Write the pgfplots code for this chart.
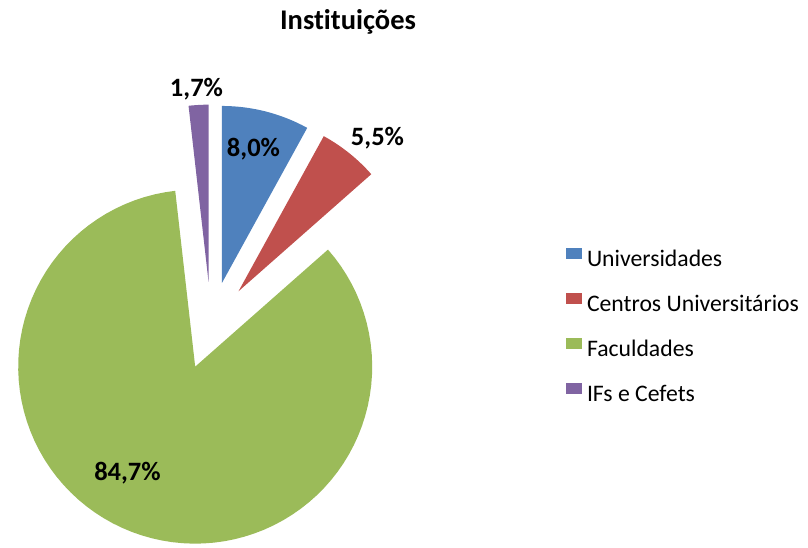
\documentclass[border=0pt]{standalone}
\usepackage{pgfplots}
\pgfplotsset{compat=1.18}
\usepackage{fontspec}
\setmainfont{Carlito}[Ligatures=NoCommon]
\definecolor{cBlue}{HTML}{4F81BD}
\definecolor{cRed}{HTML}{C0504D}
\definecolor{cGreen}{HTML}{9BBB59}
\definecolor{cPurple}{HTML}{8064A2}
% slice: #1 cumulative start (%), #2 cumulative end (%), #3 colour
% pie centre (211,222.4), radius 177, explosion 44 (pixel units)
\newcommand{\slice}[3]{%
  \addplot[fill=#3, draw=none, samples at={-1,0,1,...,90}, variable=\t]
  ({211+44*cos(90-1.8*(#1+#2)) + 177*(\t>-0.5)*cos(90-3.6*#1-3.6*(#2-#1)*\t/90)},
   {222.4+44*sin(90-1.8*(#1+#2)) + 177*(\t>-0.5)*sin(90-3.6*#1-3.6*(#2-#1)*\t/90)});
}
\begin{document}
\begin{tikzpicture}
\begin{axis}[
  x=1pt, y=1pt,
  xmin=0, xmax=808, ymin=0, ymax=548,
  hide axis, clip=false,
  legend cell align=left,
  legend image code/.code={\fill[#1] (0pt,3pt) rectangle (16pt,14pt);},
  legend style={at={(axis cs:566,300)}, anchor=north west, draw=none, fill=none,
    inner sep=0pt, outer sep=0pt, row sep=21pt, column sep=0pt,
    font=\fontsize{23.7}{23.7}\selectfont,
    nodes={inner sep=0pt, outer sep=0pt, text height=15pt, text depth=5pt}},
]
% values: Universidades 8.0, Centros 5.5, Faculdades 84.7, IFs 1.7
\slice{0}{8.0}{cBlue}
\slice{8.0}{13.5}{cRed}
\slice{13.5}{98.2}{cGreen}
\slice{98.2}{100}{cPurple}
\legend{\hspace{5pt}Universidades,\hspace{5pt}Centros Universitários,\hspace{5pt}Faculdades,\hspace{5pt}IFs e Cefets}
\path (axis cs:0,0) rectangle (axis cs:808,548);
\node[anchor=base, font=\bfseries\fontsize{28.5}{28.5}\selectfont, inner sep=0pt] at (axis cs:348,518.7) {Instituições};
\begin{scope}[every node/.style={anchor=base, font=\bfseries\fontsize{26.5}{26.5}\selectfont, inner sep=0pt}]
\node at (axis cs:253.5,391) {8,0\%};
\node at (axis cs:377.5,402) {5,5\%};
\node at (axis cs:127.5,67) {84,7\%};
\node at (axis cs:196.5,451) {1,7\%};
\end{scope}
\end{axis}
\end{tikzpicture}
\end{document}
